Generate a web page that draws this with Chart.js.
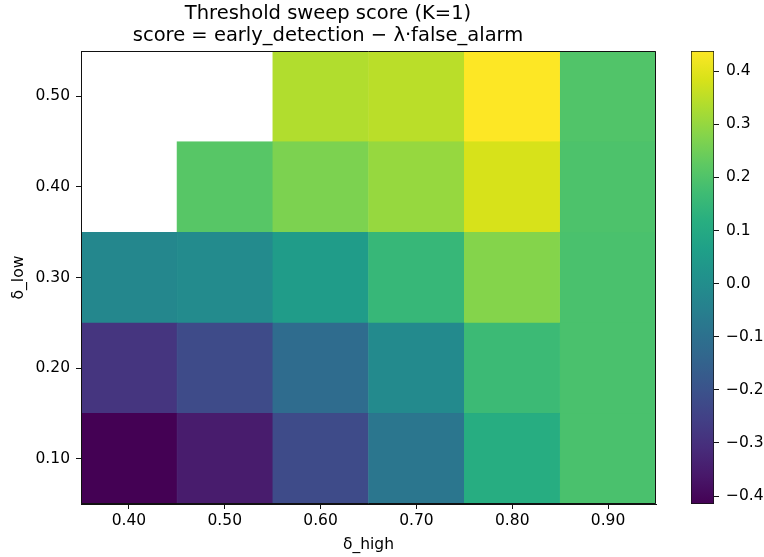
<!DOCTYPE html>
<html>
<head>
<meta charset="utf-8">
<script src="https://cdn.jsdelivr.net/npm/chart.js@4.4.1/dist/chart.umd.min.js"></script>
<style>
    body { margin: 0; background: #fff; }
    #wrap { position: relative; width: 764px; height: 557px; }
    #heatBox { position: absolute; left: 0; top: 0; width: 680px; height: 557px; }
    #barBox { position: absolute; left: 680px; top: 0; width: 84px; height: 557px; }
</style>
</head>
<body>
<div id="wrap">
    <div id="heatBox"><canvas id="heatChart"></canvas></div>
    <div id="barBox"><canvas id="colorBar"></canvas></div>
</div>
<script>
// data
var deltaHigh = ['0.40', '0.50', '0.60', '0.70', '0.80', '0.90'];
var deltaLow = [0.10, 0.20, 0.30, 0.40, 0.50];
var score010 = [-0.415, -0.351, -0.223, -0.082, 0.114, 0.191];
var score020 = [-0.287, -0.223, -0.116, -0.014, 0.165, 0.191];
var score030 = [-0.023, -0.010, 0.050, 0.152, 0.278, 0.191];
var score040 = [null, 0.212, 0.267, 0.302, 0.383, 0.195];
var score050 = [null, null, 0.336, 0.348, 0.438, 0.203];
var scoreRows = [score010, score020, score030, score040, score050];
var yTicks = [0.10, 0.20, 0.30, 0.40, 0.50];
var cbTicks = [-0.4, -0.3, -0.2, -0.1, 0.0, 0.1, 0.2, 0.3, 0.4];
var vMin = -0.415;
var vMax = 0.438;

// viridis stops
var viridis = ['#440154', '#48186a', '#472d7b', '#424086', '#3b528b', '#33638d', '#2c728e', '#26828e',
    '#21918c', '#1fa088', '#28ae80', '#3fbc73', '#5ec962', '#84d44b', '#addc30', '#d8e219', '#fde725'];

function hexToRgb(h) {
    return [parseInt(h.substr(1, 2), 16), parseInt(h.substr(3, 2), 16), parseInt(h.substr(5, 2), 16)];
}

function viridisColor(v) {
    var t = (v - vMin) / (vMax - vMin);
    t = Math.max(0, Math.min(1, t));
    var pos = t * (viridis.length - 1);
    var i = Math.min(Math.floor(pos), viridis.length - 2);
    var f = pos - i;
    var a = hexToRgb(viridis[i]);
    var b = hexToRgb(viridis[i + 1]);
    var c = [0, 1, 2].map(function (k) { return Math.round(a[k] + (b[k] - a[k]) * f); });
    return 'rgb(' + c[0] + ',' + c[1] + ',' + c[2] + ')';
}

function fmtMinus(v, d) {
    var s = Math.abs(v).toFixed(d);
    return (v < -1e-9 ? '\u2212' : '') + s;
}

Chart.defaults.font.family = 'DejaVu Sans';
Chart.defaults.color = '#000';
Chart.defaults.animation = false;

// axes box (top and right spines too)
var frame = {
    id: 'frame',
    afterDraw: function (chart) {
        var a = chart.chartArea;
        var c = chart.ctx;
        var l = Math.round(a.left) + 0.5, t = Math.round(a.top) + 0.5;
        var r = Math.round(a.right) - 0.5, b = Math.round(a.bottom) - 0.5;
        c.save();
        c.strokeStyle = '#111';
        c.lineWidth = 1;
        c.beginPath();
        c.moveTo(l, t);
        c.lineTo(r, t);
        c.lineTo(r, b);
        c.lineTo(l, b);
        c.closePath();
        c.stroke();
        c.restore();
    }
};

var datasets = scoreRows.map(function (row, r) {
    var y = deltaLow[r];
    return {
        label: 'δ_low ' + y.toFixed(2),
        data: row.map(function (v) { return v === null ? null : [y - 0.05, y + 0.05]; }),
        backgroundColor: row.map(function (v) { return v === null ? 'rgba(0,0,0,0)' : viridisColor(v); }),
        borderColor: row.map(function (v) { return v === null ? 'rgba(0,0,0,0)' : viridisColor(v); }),
        borderWidth: 0.6,
        borderSkipped: false,
        grouped: false,
        barPercentage: 1,
        categoryPercentage: 1
    };
});

var heat = new Chart(document.getElementById('heatChart').getContext('2d'), {
    type: 'bar',
    data: { labels: deltaHigh, datasets: datasets },
    options: {
        responsive: true,
        maintainAspectRatio: false,
        layout: { padding: { left: 0, right: 24, top: 0, bottom: 0 } },
        plugins: {
            legend: { display: false },
            tooltip: { enabled: false },
            title: {
                display: true,
                text: ['Threshold sweep score (K=1)', 'score = early_detection \u2212 \u03bb\u00b7false_alarm'],
                font: { size: 19.5, weight: 'normal', lineHeight: 1.13 },
                color: '#000',
                padding: { top: 3, bottom: 4 }
            }
        },
        scales: {
            x: {
                type: 'category',
                offset: true,
                grid: { display: true, offset: false, drawOnChartArea: false, drawTicks: true, tickLength: 5, color: '#111' },
                border: { display: true, color: '#111' },
                ticks: { font: { size: 15.5 }, color: '#000', padding: 3, maxRotation: 0 },
                title: { display: true, text: 'δ_high', font: { size: 15.5 }, color: '#000', padding: { top: 0, bottom: 3 } },
                afterFit: function (s) { s.height = 53; }
            },
            y: {
                type: 'linear',
                min: 0.05,
                max: 0.55,
                afterBuildTicks: function (s) { s.ticks = yTicks.map(function (v) { return { value: v }; }); },
                grid: { display: true, drawOnChartArea: false, drawTicks: true, tickLength: 5, color: '#111' },
                border: { display: true, color: '#111' },
                ticks: { font: { size: 15.5 }, color: '#000', padding: 6, callback: function (v) { return v.toFixed(2); } },
                title: { display: true, text: 'δ_low', font: { size: 15.5 }, color: '#000', padding: { top: 10, bottom: 0 } },
                afterFit: function (s) { s.width = 81; }
            }
        }
    },
    plugins: [frame]
});

var bar = new Chart(document.getElementById('colorBar').getContext('2d'), {
    type: 'bar',
    data: {
        labels: [''],
        datasets: [{
            data: [[vMin, vMax]],
            backgroundColor: function (ctx) {
                var chart = ctx.chart;
                if (!chart.chartArea) return '#fff';
                var ys = chart.scales.y;
                var g = chart.ctx.createLinearGradient(0, ys.getPixelForValue(vMin), 0, ys.getPixelForValue(vMax));
                viridis.forEach(function (c, i) { g.addColorStop(i / (viridis.length - 1), c); });
                return g;
            },
            borderColor: '#111',
            borderWidth: 1,
            borderSkipped: false,
            barPercentage: 1,
            categoryPercentage: 1
        }]
    },
    options: {
        responsive: true,
        maintainAspectRatio: false,
        layout: { padding: { left: 11, right: 0, top: 51, bottom: 53 } },
        plugins: { legend: { display: false }, tooltip: { enabled: false } },
        scales: {
            x: { display: false },
            y: {
                type: 'linear',
                position: 'right',
                min: vMin,
                max: vMax,
                afterBuildTicks: function (s) { s.ticks = cbTicks.map(function (v) { return { value: v }; }); },
                grid: { display: true, drawOnChartArea: false, drawTicks: true, tickLength: 5, color: '#111' },
                border: { display: false },
                ticks: { font: { size: 15.5 }, color: '#000', padding: 7, callback: function (v) { return fmtMinus(v, 1); } },
                afterFit: function (s) { s.width = 50; }
            }
        }
    }
});
</script>
</body>
</html>
